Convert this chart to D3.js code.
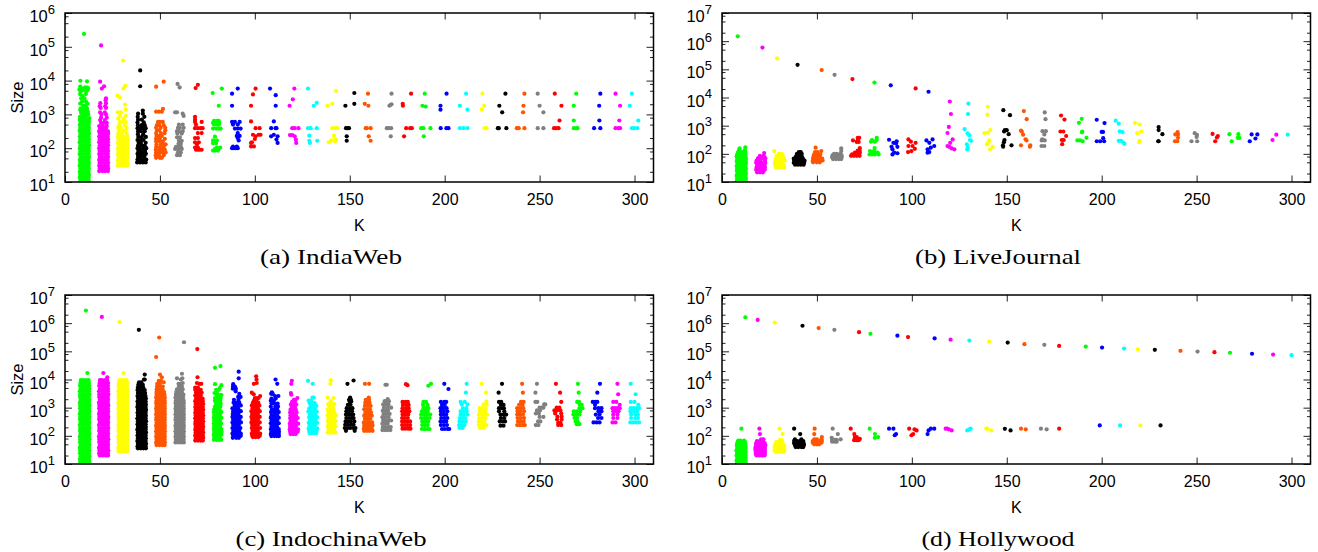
<!DOCTYPE html>
<html>
<head>
<meta charset="utf-8">
<script src="https://cdn.jsdelivr.net/npm/d3@7/dist/d3.min.js"></script>
<style>
  html, body { margin: 0; padding: 0; background: #fff; }
  svg { display: block; }
  text { font-family: "Liberation Sans", Arial, sans-serif; fill: #000; }
  .caption { font-family: "Liberation Serif", serif; }
</style>
</head>
<body>
<svg id="chart" width="1318" height="552"></svg>
<script>
// colour of each K cluster, K = 10, 20, ... 300
const kTicks = [0, 50, 100, 150, 200, 250, 300];
const clusterColors = [
  "#00ff00", "#ff00ff", "#ffff00", "#000000", "#ff5500", "#808080", "#ff0000", "#00ff00", "#0000ff", "#ff0000",
  "#0000ff", "#ff00ff", "#00ffff", "#ffff00", "#000000", "#ff5500", "#808080", "#ff0000", "#00ff00", "#0000ff",
  "#00ffff", "#ffff00", "#000000", "#ff5500", "#808080", "#ff0000", "#00ff00", "#0000ff", "#ff00ff", "#00ffff"
];
const minorMultiples = [2, 5, 8];

// Each cluster is a list of rows: [size, k, k, ...].
const indiaWeb = [
  [[240000,10],[9900,8.1],[9500,11.6],[6700,8],[6300,10.6],[6200,11.8],[5800,12.2,9],[5400,7.6,9.7,11.8],[4800,8.4,11.2],[4000,7.9,11],[3500,9.2],[3000,8.5,10.2],[2400,9,11],[2100,8,11.8],[1800,9.6,10.8],[1500,8.3,9.4,11.6],[1350,9.7,11,8],[1200,10.4,12],[1100,8.5],[1000,9.4,10.6,12.2],[850,7.9,9.7,11],[780,12.8,8.6],
   [700,7.8,9.2,10.8,12.4],[600,8.2,9.9,11.4,12.6],[490,7.8,9.4,11,12.5],[400,8,9.8,11.3,12.6],[330,7.7,9.2,10.8,12.4],[270,8.1,9.7,11.4,12.7],[222,7.8,9.3,11,12.4],[182,8,9.8,11.2,12.6],[150,7.7,9.4,10.9,12.5],[122,8.1,9.6,11.3,12.7],[100,7.8,9.3,11,12.4],[82,8,9.8,11.4,12.6],[67,7.7,9.2,10.8,12.5],[55,8.2,9.8,11.3,12.7],[45,7.8,9.4,11,12.4],[37,8,9.7,11.2,12.6],[30,7.7,9.3,10.9,12.5],[25,8.1,9.8,11.3,12.6],[20,7.8,9.4,11,12.4],[16.5,8,9.7,11.3,12.6],[13.5,7.8,9.3,10.9,12.5],[11,8.1,9.7,11.2,12.5]],
  [[110000,19],[9300,18.5],[6800,20.6],[5800,19.4],[3000,21.6],[2600,21.4],[2150,18.6,21.6],[1750,18.3,21.2],[1550,21.6,18.8],[1150,18.5,21],[1000,19.2,21.6],[800,19,22],[680,18.5,21],[560,19,20.5,22],[450,18,20,22],[380,18.5,20,21.5],
   [320,18,19.6,21.2,22.6],[270,18.3,19.9,21.4,22.7],[222,18,19.6,21.1,22.5],[182,18.2,19.8,21.4,22.7],[150,18,19.5,21.2,22.6],[122,18.3,19.9,21.5,22.7],[100,18,19.6,21.1,22.5],[82,18.2,19.8,21.4,22.7],[67,18,19.5,21.2,22.6],[55,18.3,19.9,21.5,22.7],[45,18,19.6,21.1,22.5],[37,18.2,19.8,21.4,22.7],[30,18,19.5,21.2,22.6],[25,18.3,19.9,21.5,22.7],[21,18,19.6,21.1,22.6]],
  [[39000,30.6],[7000,31.7],[5800,30.8],[3600,27.6],[3200,29],[1950,31.7],[1400,32],[1150,27.8,29.5],[900,29,32],[750,28,31],[600,29,30.5,32],[480,28.5,31.5],[400,28,29.5,32.5],[330,28.5,31,32],[270,28,30,32.5],[220,27.8,29,31,32.8],[180,28.2,29.8,31.4,32.9],
   [146,27.8,29.6,31.2,32.8],[120,28.2,29.9,31.5,32.9],[98,27.8,29.5,31.1,32.7],[80,28.1,29.8,31.4,32.9],[66,27.8,29.6,31.2,32.8],[54,28.2,29.9,31.5,32.9],[44,27.8,29.5,31.1,32.7],[36,28.1,29.8,31.4,32.9],[30,27.8,29.6,31.2,32.8]],
  [[20000,39.6],[6800,39.6],[1300,41],[1050,38.5,41],[850,38.3,41.8],[700,38.5,40.5],[580,38.2,41.5],[480,38.4,40.4,42],[390,38.2,39.6,41,42.5],[320,38.5,40,42],[260,38.4,41.2],[215,38.6,40.5,42.6],[175,38.2,39.8,41.4],[145,38.8,40,42.5],[120,38.5,40.4,42],[100,38.2,39.5,41.5,42.8],[82,38.6,40.5,42.2],[68,38.2,39.8,41,42.6],[56,38.5,40,41.8],[46,38.2,40,41.5,42.8],[38,38,39.5,41,42.5]],
  [[9300,52],[6600,48],[1450,51.6],[1200,48,49.5,51],[600,49,50,51.5],[480,48.4,49.6,52],[400,48,50.4,52.8],[340,48.5,49.5,52.8],[280,48,50.5,52.5],[230,48.2,49.6,51],[190,48,50,52.6],[160,48,49.8,51.5],[130,48.2,50.5,51.6,53],[108,48,50,52],[90,47.8,49.6,51,52.6],[75,48,50,51.5,53],[62,47.8,49.5,52],[52,48,50,51]],
  [[8000,59.3],[6300,60.4],[1150,58,59],[1050,62],[900,62.5],[500,60,62],[400,59.5,60.5,62.5],[320,59,60,62],[270,59.2,61.5],[210,59,60.5],[165,60,61.5],[135,59.8,61],[110,58.5,60,61],[95,58,59.5,60,61.5],[75,59.5,61],[62,59,60.5]],
  [[7500,70],[6000,68.8],[850,68.5],[700,68.5],[600,68.5,72],[500,69],[390,68.5,70,71.5,72.5],[280,70,72],[200,68.5,70],[150,68.5,70.5],[130,69.5],[105,68.5,70],[90,69,70,71,72]],
  [[5800,82.6],[4300,77.8],[1800,81],[640,78.5,80,81],[560,78,79.5,81.2],[500,78.5,80,81],[380,78,79.5,81,82],[220,79],[170,78,80],[140,78,79.5],[105,80,81.8],[95,79,81],[85,78,79,80.5]],
  [[5800,91],[4100,88],[1800,88],[600,88,89.5,92],[500,88.5,91],[380,89.5,91,92.5],[280,91],[230,90.5,92],[200,91],[170,91.5],[112,88.5,90.5],[100,88,89,90,91]],
  [[5800,100.4],[3900,99],[1800,98],[620,98],[390,100.4,102.5],[250,99,102,103],[225,100.4],[187,100],[150,98.5],[143,98],[113,98,99.5]],
  [[5800,108],[3700,111],[1800,111],[620,110],[390,108.6,110.9,111.4],[250,110],[225,108.6,112],[180,111.4],[143,112]],
  [[5800,120.8],[2800,120],[1800,118.3],[390,119.7,121,123],[245,118.5,119.7],[225,121],[180,121.6],[143,121.8]],
  [[5800,128],[2200,132.6],[1800,131],[390,128,129.4,132.6],[235,128.7],[166,128.7,132.9],[143,129]],
  [[5000,142.8],[2050,140.8],[1800,138.2],[390,140.8,142.4,143.5],[235,141.7],[180,142.6],[170,140.3],[160,142.3],[150,139]],
  [[4300,152.4],[2050,152.4],[1800,147.7],[390,148,149,149.6],[225,148.4],[166,148.4]],
  [[4100,159.6],[2050,157.9],[1800,159.8],[390,158.4,159,161],[225,160],[166,161]],
  [[4100,172],[2000,172],[1900,171.4],[1800,170.9],[390,169.5,170.4,171.8],[225,171.6]],
  [[4100,182.3],[2050,177.9],[1800,178],[390,179.7,181.8,182.7],[225,178.6]],
  [[4100,189.5],[1800,188.3],[1700,190],[390,187.6,188.8,192.5],[225,189]],
  [[4100,201],[1800,197.8],[1380,197.8],[390,197.9,200.9,202]],
  [[4100,211.3],[1800,208],[1380,212],[390,208,209.9,212]],
  [[4100,219.9],[1800,220.8],[1380,219.5],[390,221,222]],
  [[4100,232],[1800,228.8],[1150,230.3],[390,228,228.5,232.5]],
  [[4100,242],[1800,241.5],[1150,241.3],[390,238,239,242]],
  [[4100,249],[1800,250],[1150,252],[390,249,252]],
  [[4100,258],[1800,261.5],[660,260.5],[390,257.6,258.7,260]],
  [[4100,269.3],[1800,268],[660,268],[390,268,269.3,270]],
  [[4100,282],[1800,281.4],[660,281.5],[390,278.7,282]],
  [[4100,290],[1800,292.4],[660,292],[390,290,291.6,292.4]],
  [[4100,298.6],[1800,297.5],[660,302],[390,298.6,299.8,301.5]]
];

const liveJournal = [
  [[1480000,8.3],[170,12.3],[155,9.3],[135,9,12],[115,8.5,10,11.5,12.3],[95,8,9.5,11,12.4],[80,7.7,9.2,10.8,12.4],[67,8,9.8,11.3,12.6],[55,7.8,9.3,10.9,12.5],[45,8.1,9.7,11.2,12.6],[37,7.7,9.4,11,12.4],[30,8,9.8,11.3,12.6],[25,7.8,9.3,10.9,12.5],[20,8.1,9.7,11.2,12.6],[16.5,7.7,9.4,11,12.4],[13.5,8,9.8,11.3,12.6],[11,7.8,9.3,10.9,12.5]],
  [[590000,21.3],[107,22.2],[85,20,22],[70,19,21,22.8],[58,18.2,20.2,22.6],[48,18,19.5,21,22.8],[40,18.5,20.5,22.5],[33,18.2,20,21.5,22.6],[27,18,19.5,21,22.5],[22,18.5,20,21.5]],
  [[245000,29],[125,27.5],[100,30,31.5],[85,28.8,30.5,32],[70,28.5,30.5,32.5],[58,28.2,29.8,31.5,33],[48,28,30,31.8],[40,28,29.5,31,32.5],[33,28.5,30,31.5,32.8]],
  [[144000,39.8],[115,40.5,41.5],[100,39.5,40.8,42],[82,39,40.5,42],[68,37.8,39.4,41,42.6],[57,38,39.5,41,42.5,43.5],[48,37.8,39.5,41,42.8,43.3],[41,38.5,40,41.5,43]],
  [[94000,52.5],[165,49.3],[125,52.3],[115,49,50.4],[95,48.5,50,51.8],[80,48.2,50,51.5],[68,48,49.5,51,52.8],[58,47.8,49.5,51,53],[50,48,50,51.5]],
  [[64000,59.3],[155,62.8],[125,62.8],[100,59,60.5,62.5],[88,58.2,60,61.5,63],[75,58,59.5,61,62.5,63],[65,58.5,60,61.5,62.8]],
  [[45000,68.7],[370,71.5,72.3],[300,69,71.5],[265,71,72],[160,72.6],[130,71.5,72.5],[110,70,71.5,72.6],[95,68.5,70.5,72],[85,68,69.5,71,72.5]],
  [[34000,80.3],[370,81.5],[310,79,81.5],[270,78.5,80.5],[160,80.4],[125,78,80],[110,78.5,79.5,81,82],[95,77.7,79,80.5,82.5]],
  [[27000,88.9],[316,88],[280,92],[245,90.3],[235,91.7],[178,92.4,89.3],[145,89.8],[110,90.7],[105,92.4],[95,89.8]],
  [[21000,102],[325,98.2],[270,99.5],[245,102],[190,98.2,100.4],[150,101.6],[125,99.8],[115,98]],
  [[16000,108.8],[325,110.9],[300,107.7],[245,109.2],[190,111.8],[165,110],[145,108.3],[115,109.2],[110,108.3]],
  [[7200,120],[2600,120.6],[900,119.5],[550,118.8],[325,121.5],[245,120.2],[190,118.8],[178,119.7],[155,121],[145,122.4]],
  [[6100,129.8],[2600,129.6],[750,127.8],[530,129.4],[460,130.3],[310,130.6],[290,131.2],[215,129],[165,129.4],[145,129.2]],
  [[4700,140],[2450,139.8],[700,141.4],[560,140],[550,138.2],[300,140.8],[250,140.3],[215,139.6],[178,142.6],[145,141.2]],
  [[3550,148.2],[2350,151.7],[690,150,149],[620,148.6],[500,151],[310,148.8],[260,148.5],[200,148,152.5],[180,148.1]],
  [[3300,159],[1700,160.5],[670,157.5],[620,157.9],[480,158.6],[330,159.9],[300,160.4],[200,157.5,162.4],[180,162.2]],
  [[2950,170],[1700,170.4],[640,168.8,170.6],[490,169.8],[330,168.7],[300,168.4,170],[190,168.3,169.8]],
  [[2300,178.6],[1650,180.4],[620,178.3,179.8],[430,181.3],[310,179,180],[220,179.2]],
  [[1750,189.5],[1260,188],[620,189.8],[580,189.6],[370,192],[300,187.2,188.6],[280,190]],
  [[1620,197.4],[1240,201.5],[600,200,200.7],[360,200.8],[280,197.4,199.2,201.3]],
  [[1500,207.4],[1180,209],[630,209.5],[590,211],[290,209,210.2],[250,211.4],[230,212]],
  [[1260,217.6],[1100,220],[540,218.7],[620,220.8],[290,220],[260,219.7]],
  [[890,230],[700,230],[500,232],[280,229.8,230]],
  [[590,240],[490,238.8,240.2],[370,240.2],[280,238.6,239.8]],
  [[540,249],[470,250.2],[400,250],[280,247.3,250.3]],
  [[510,258.4],[430,261.2],[380,260.7],[280,259.8]],
  [[500,267.3,272],[370,271.7,272.5],[280,268.5]],
  [[490,279,282],[350,281],[280,278]],
  [[480,292],[310,290]],
  [[480,298]]
];

const indochinaWeb = [
  [[2800000,11],[17000,11.8],[9500,8.4,9.5,11,12.4],[7500,8.1,9.7,11.2,12.6],[6000,7.9,9.4,11,12.7],[4700,8.2,9.8,11.3,12.8],[3800,7.8,9.5,11,12.6],[3000,8,9.7,11.2,12.8],[2400,7.9,9.4,11,12.6],[1900,8.2,9.8,11.3,12.8],[1500,7.8,9.5,11,12.6],[1200,8,9.7,11.2,12.8],[950,7.9,9.4,11,12.6],[750,8.2,9.8,11.3,12.8],[600,7.8,9.5,11,12.6],[470,8,9.7,11.2,12.8],[380,7.9,9.4,11,12.6],[300,8.2,9.8,11.3,12.8],[240,7.8,9.5,11,12.6],[190,8,9.7,11.2,12.8],[150,7.9,9.4,11,12.6],[120,8.2,9.8,11.3,12.8],[95,7.8,9.5,11,12.6],[75,8,9.7,11.2,12.8],[60,7.9,9.4,11,12.6],[48,8.2,9.8,11.3,12.8],[38,7.8,9.5,11,12.6],[30,8,9.7,11.2,12.8],[24,7.9,9.4,11,12.6],[19,8.2,9.8,11.3,12.8],[15,7.8,9.5,11,12.6],[12,8,9.7,11.2,12.8]],
  [[1660000,19.4],[17000,20.2],[12000,22.3],[9500,18.4,19.6,21.2,22.2],[7500,18.2,19.8,21.3,22.7],[6000,18,19.5,21.1,22.6],[4700,18.3,19.9,21.4,22.7],[3800,17.9,19.6,21.1,22.6],[3000,18.1,19.8,21.3,22.8],[2400,18,19.5,21.1,22.6],[1900,18.3,19.9,21.4,22.7],[1500,17.9,19.6,21.1,22.6],[1200,18.1,19.8,21.3,22.8],[950,18,19.5,21.1,22.6],[750,18.3,19.9,21.4,22.7],[600,17.9,19.6,21.1,22.6],[470,18.1,19.8,21.3,22.8],[380,18,19.5,21.1,22.6],[300,18.3,19.9,21.4,22.7],[240,17.9,19.6,21.1,22.6],[190,18.1,19.8,21.3,22.8],[150,18,19.5,21.1,22.6],[120,18.3,19.9,21.4,22.7],[95,17.9,19.6,21.1,22.6],[75,18.1,19.8,21.3,22.8],[60,18,19.5,21.1,22.6],[48,18.3,19.9,21.4,22.7],[38,17.9,19.6,21.1,22.6],[30,18.1,19.8,21.3,22.8],[24,18,19.5,21.1,22.6],[20,18.3,19.9,21.4,22.7]],
  [[1100000,28.7],[17000,30.8],[9500,28.6,29.8,31.3,32.4],[7500,28.4,30,31.5,32.8],[6000,28.2,29.7,31.2,32.6],[4700,28.5,30.1,31.6,32.7],[3800,28.1,29.8,31.3,32.8],[3000,28.3,30,31.5,32.7],[2400,28.2,29.7,31.2,32.8],[1900,28.5,30.1,31.6,32.7],[1500,28.1,29.8,31.3,32.8],[1200,28.3,30,31.5,32.7],[950,28.2,29.7,31.2,32.8],[750,28.5,30.1,31.6,32.7],[600,28.1,29.8,31.3,32.8],[470,28.3,30,31.5,32.7],[380,28.2,29.7,31.2,32.8],[300,28.5,30.1,31.6,32.7],[240,28.1,29.8,31.3,32.8],[190,28.3,30,31.5,32.7],[150,28.2,29.7,31.2,32.8],[120,28.5,30.1,31.6,32.7],[95,28.1,29.8,31.3,32.8],[75,28.3,30,31.5,32.7],[60,28.2,29.7,31.2,32.8],[48,28.5,30.1,31.6,32.7],[38,28.1,29.8,31.3,32.8],[32,28.3,30,31.5,32.7],[28,28.2,29.7,31.2,32.8]],
  [[580000,38.9],[15000,42],[10000,42,41.6],[8000,39,40.2],[6500,38.6,40,41],[5200,38.4,39.8,41.2],[4200,38.2,39.6,41,42],[3300,38.4,39.8,41.2,42.2],[2600,38.2,39.6,41,42.4],[2100,38.5,39.8,41.2,42.6],[1650,38.2,39.7,41.1,42.5],[1300,38.4,39.9,41.3,42.6],[1050,38.1,39.6,41,42.5],[830,38.4,39.8,41.2,42.7],[660,38.2,39.7,41.1,42.5],[520,38.4,39.9,41.3,42.6],[410,38.1,39.6,41,42.5],[330,38.4,39.8,41.2,42.7],[260,38.2,39.7,41.1,42.5],[205,38.4,39.9,41.3,42.6],[165,38.1,39.6,41,42.5],[130,38.4,39.8,41.2,42.7],[103,38.2,39.7,41.1,42.5],[82,38.4,39.9,41.3,42.6],[65,38.1,39.6,41,42.5],[52,38.4,39.8,41.2,42.7],[42,38.2,39.7,41.1,42.5],[36,38.4,39.9,41.3,42.6]],
  [[310000,49.6],[63000,48],[15000,50],[12000,51],[9000,49.4,50.5],[8000,52],[7000,48.6,50],[5600,48.5,49.8,51.5],[4500,48.3,49.8,51.4],[3600,48.2,49.6,51,52.2],[2900,48.2,49.8,51.3,52.4],[2300,48,49.5,51,52.6],[1800,48.2,49.8,51.3,52.5],[1450,48,49.5,51,52.6],[1150,48.2,49.8,51.3,52.5],[920,48,49.5,51,52.6],[730,48.2,49.8,51.3,52.5],[580,48,49.5,51,52.6],[460,48.2,49.8,51.3,52.5],[370,48,49.5,51,52.6],[290,48.2,49.8,51.3,52.5],[230,48,49.5,51,52.6],[185,48.2,49.8,51.3,52.5],[145,48,49.5,51,52.6],[115,48.2,49.8,51.3,52.5],[92,48,49.5,51,52.6],[73,48.2,49.8,51.3,52.5],[58,48,49.5,51,52.6],[47,48.2,49.8,51.3,52.5]],
  [[210000,62.7],[16000,61.6],[11000,59,61.8],[10000,61],[7500,62],[7000,59.8,61],[5600,60,61.6],[4500,59,60.6,62],[3600,58.6,60.2,61.6],[2900,58.4,60,61.4,62.4],[2300,58.2,59.8,61.2,62.2],[1800,58.4,60,61.4,62.5],[1450,58.2,59.7,61.2,62.6],[1150,58.4,60,61.4,62.5],[920,58.2,59.7,61.2,62.6],[730,58.4,60,61.4,62.5],[580,58.2,59.7,61.2,62.6],[460,58.4,60,61.4,62.5],[370,58.2,59.7,61.2,62.6],[290,58.4,60,61.4,62.5],[230,58.2,59.7,61.2,62.6],[185,58.4,60,61.4,62.5],[145,58.2,59.7,61.2,62.6],[115,58.4,60,61.4,62.5],[92,58.2,59.7,61.2,62.6],[73,58.4,60,61.4,62.5],[58,58.2,59.7,61.2,62.6]],
  [[120000,69.7],[12000,69.8],[7500,69.5],[7000,71.8,70.8],[5200,68.6,70],[4300,68.6,70,71.5],[3400,69,70.4,72],[2700,68.6,70,71.5],[2100,69,70.4,71.8,72.5],[1700,68.6,70,71.4,72.6],[1350,68.8,70.2,71.6,72.8],[1050,68.6,70,71.4,72.6],[840,68.8,70.2,71.6,72.8],[660,68.6,70,71.4,72.6],[530,68.8,70.2,71.6,72.8],[420,68.6,70,71.4,72.6],[330,68.8,70.2,71.6,72.8],[265,68.6,70,71.4,72.6],[210,68.8,70.2,71.6,72.8],[165,68.6,70,71.4,72.6],[130,68.8,70.2,71.6,72.8],[105,68.6,70,71.4,72.6],[85,68.8,70.2,71.6,72.8],[68,68.6,70,71.4,72.6]],
  [[30000,81.9],[26000,79],[6800,79],[6300,82.4],[5000,81.5],[4300,79.6,81],[3300,78.8,80],[2800,80,81.5,82.4],[2200,79,80.5,82],[1750,79,80.4,81.8],[1400,79.5,81,82],[1100,79,80.4,81.8],[880,78.6,80,81.4],[700,78.4,80,81.2,82.4],[550,78.6,80.2,81.6],[440,78.4,79.8,81.2,82.4],[350,78.6,80.2,81.6],[275,78.4,79.8,81.2,82.2],[220,78.6,80.2,81.6],[175,78.4,79.8,81.2,82.4],[140,78.6,80.2,81.6,82.5],[110,78.4,79.8,81.2,82.4],[90,78.6,80.2,81.6],[72,78.4,79.8,81.2,82.3]],
  [[19000,91.5],[11000,91.5],[6800,88.6],[5600,88.5,89.5],[4700,88.4,90],[3800,89.9],[3100,91.8],[2400,91.2,92.5],[1900,89,91.4],[1500,88.8,90.4,91.8],[1200,89.4,91,92.6],[950,88.2,89.6,91.2],[750,88.6,90.2,91.8,92.6],[600,88.4,89.8,91.4],[470,88.2,89.6,91,92.6],[380,88.6,90.2,91.8],[300,88.2,89.8,91.2,92.7],[240,88.6,90.2,91.6],[190,88.2,89.6,91,92.4],[150,88.6,90.2,91.8],[120,88.2,89.6,91.2,92.6],[100,88.6,90,91.4,92.6],[85,88.4,90.2,91.6]],
  [[13000,100.7],[10000,100.9],[7500,101],[7000,99.5],[3400,98.4],[3000,99.4],[2600,102.8],[2200,100,101.2,102],[1800,99.6,100.8],[1500,99,100.4,101.8],[1200,98.4,100,101.2,102.4],[950,98.8,100.2,101.6],[750,98.2,99.6,101,102.6],[600,98.6,100.2,101.6],[470,98.2,99.6,101.2,102.6],[380,98.6,100,101.6],[300,98.2,99.8,101.2,102.6],[240,98.6,100,101.6],[190,98.4,99.8,101.2,102.8],[150,98.8,100.2,101.6],[120,98.4,99.8,101.2,102.8],[100,98.6,100,101.4,102.6],[90,99,100.4,101.8]],
  [[10000,110.9],[7000,111.8],[3500,109],[3100,108.6,109.4],[2600,110.6,112.4],[2100,108.8,111],[1750,108.4,110],[1400,108.8,110.4,112],[1100,108.4,110.8,112.2],[880,109,110.4,111.8],[700,108.5,110,111.4,112.6],[550,108.8,110.4,111.8],[440,108.4,110,111.4,112.6],[350,108.8,110.4,111.8],[280,108.4,110,111.4,112.6],[220,108.8,110.2,111.6],[175,108.4,110,111.4,112.6],[140,108.7,110.2,111.6,112.7],[115,108.4,110,111.4,112.6],[98,108.7,110.2,111.6,112.7]],
  [[9000,119.5],[7000,119.2],[3300,119],[2900,119.2],[2200,122.4],[1900,120.6,121.5],[1600,119.6,121],[1300,119,120.5,121.8],[1050,119.4,121.2],[850,118.8,120.2,121.6],[680,118.6,120,122],[540,118.8,120.2,121.6],[430,118.6,120,121.4,122.6],[340,118.8,120.2,121.6],[270,118.4,120,121.4,122.8],[215,118.6,120.2,121.6],[170,118.4,120,121.4,122.8],[140,118.6,120.2,121.6,122.6],[115,118.8,120.2,121.6]],
  [[9000,128],[7000,130.5],[2300,130.4,131],[1800,128.4,129.6],[1450,128.8,130.2,131.5],[1150,129.4,131,132.4],[920,128.6,130,131.6],[730,128.2,129.6,131.2,132.6],[580,129,130.4,131.8],[460,128.6,130,131.4,132.8],[365,129,130.6,132],[290,128.4,130,131.4,132.8],[230,128.8,130.2,131.6],[185,128.4,129.8,131.4,132.8],[150,128.6,130.2,131.6,132.6],[125,128.8,130,131.4,132.4]],
  [[9500,140],[7000,139.8],[2300,138.4],[2200,141.5],[1700,140],[1350,138.6,140.4,141.8],[1080,139.2,141],[860,138.4,139.8,141.4],[680,138.8,140.4,141.8],[540,138.4,140,141.6,142.5],[430,138.8,140.2,141.8],[340,138.4,140,141.4,142.6],[270,138.8,140.4,141.8],[215,138.4,140,141.6,142.5],[170,138.8,140.2,141.8],[130,138.4,140,141.4,142.5]],
  [[9200,152],[7000,148.8],[2300,150.2],[1900,149.6,150.6],[1660,150,150.8],[1270,149,150.4],[960,148.4,150,151.4],[740,148.2,149.6,151.2],[570,148,149.4,150.8,151.8],[430,148.2,149.6,151,152],[325,147.8,149.2,150.6,152.4],[247,147.6,149,150.6,152],[190,147.4,148.8,150.2,151.8,153],[150,148,152.6]],
  [[7000,158,160.2],[2300,160],[1900,158.4,160.2],[1500,158.2,159.4,160.4],[1150,158,159.6,161],[880,157.6,159.2,160.6],[680,158.2,159.8,161.2],[520,157.6,159,160.4,161.6],[400,158,159.4,160.8],[300,157.4,158.8,160.2,161.8],[235,157.6,159,160.4,162],[180,157.4,158.8,160.2,161.6],[150,157.6,159,160.4,162]],
  [[6500,169.5,168.8],[2000,170],[1700,168.4,169.4,170.6],[1300,167.6,169,170.4],[1000,168,170,171.8],[780,167.4,168.8,170.2],[600,167.8,169.4,171],[460,167.2,168.6,170.4],[350,167.6,169.2,170.6,171.8],[270,167.2,168.6,170],[205,167.4,168.8,170.4,171.6],[160,167.2,168.6,170,171.4]],
  [[6800,179.6],[6300,180.4],[1600,177.8,179.4,180.6],[1250,178,179.6,181],[960,177.8,179.6,181],[740,177.6,179,180.4,181.4],[570,177.8,179.4,180.8],[430,177.6,179,180.6],[325,177.6,179,180.4,181.8],[240,177.6,179,180.4,181.8],[180,177.8,179.2,180.8,182]],
  [[7000,192.8],[6000,191.4],[1600,188.8,190.2],[1250,188.6,191],[960,188.8,190,191.4],[740,188,189.6,191],[570,187.6,189.2,190.6,192.4],[430,187.6,189.2,190.6,192],[325,188.2,189.8,191.4],[240,188.2,189.6,191],[175,188,189.4,190.8,192]],
  [[7000,199.8],[4600,202],[1600,198,199.8,200.8],[1250,198.6,200],[960,197.8,199.2,201],[740,198,199.6,201.4],[570,198,199.4,200.8],[430,198.2,200,201.4],[325,197.8,199.4,200.8],[240,198,199.6,201.2],[175,198.6,200,201.6,202.4]],
  [[7000,211.6],[3400,211.2],[1600,208.4,210.6],[1300,209,212],[960,209.6,211.4],[740,208.4,210,211.6],[570,208.4,210,212],[430,208,209.4,210.8],[325,207.8,209.4,211],[240,207.6,209,210.4],[190,207.8,209.4]],
  [[7000,219.4],[3400,221.8],[1650,222],[1300,220.6,222],[960,218.4,220,221.6],[740,218.6,220,221.4],[570,218,219.6,221.2,222.4],[430,218.2,219.8,221.4],[325,218,219.6,221],[240,218,219.4,220.8,222],[190,218.6,220.4]],
  [[7000,230.2],[3400,228.4],[1600,228.6,229.8],[1270,229.6,231],[960,228.6,230,231.2],[740,228.6,231.4],[570,229.4,231,232.4],[430,229.6,231.4],[325,229,230.4,231.8],[230,229.4,231]],
  [[7000,240.8],[3400,241.2],[1600,240.2,241.6],[1270,239.2,241],[960,238.2,240,241.4],[740,238.4,239.8,241.8],[570,238.2,239.6,241.2],[430,238.4,240,241.8],[325,238.6,240,241.6],[240,238.2,239.6,241,242.2]],
  [[7000,248.6],[3400,247.8],[1600,247.8,248.8],[1300,252.4,253],[1000,250,251.2,252],[800,248.6,250.2],[620,248,249.6],[470,250,252],[325,249.2,250.4],[240,248,249.4]],
  [[7000,258.6],[3400,260.8],[1600,261.4],[1000,259,260.4],[800,257.8,259.2,261],[620,258.2,261.4],[480,259.4,261.6],[380,259.2,261.6],[290,259.8,261],[240,259.8,261.4]],
  [[7000,270.2],[3400,270.6],[1600,269.8,270.8],[1270,271.2,272.2],[960,271,272.6],[740,268,269.6,271.4],[570,267.8,269.4,271],[430,268.4,269.8],[325,269,270],[260,269.6,271]],
  [[7000,281.8],[3400,280.4],[1600,278,279.4,280.4],[1270,279.2],[960,279.2,281,282.6],[740,281,282.6],[570,279.6,281.6],[430,280.8,282.6],[300,278.4,280,281.6]],
  [[7000,291],[3000,291.4],[1600,288.8,290.4],[1270,292.2],[960,288.4,289.6,291,292.2],[740,288.8,290.4,291.6],[570,288.8,291],[430,288.8,291],[300,288.4,290]],
  [[7000,298],[3000,300.6],[1600,298,300],[1270,302],[960,298,299.4,301,302.4],[740,297.8,299.6,301.4],[570,298.2,300.4,301.8],[430,298.2,300.4,301.8],[300,297.8,299.4,300.8,302.4]]
];

const hollywood = [
  [[1620000,12.3],[180,10.2],[68,8.6,9.6,11.6],[62,8.4,9.4,10.6,12],[55,8,9.4,10.9,12.2],[45,7.8,9.3,10.8,12.4],[37,8,9.6,11,12.5],[30,7.6,9.2,10.7,12.4],[25,7.9,9.5,11,12.5],[20,7.7,9.3,10.8,12.4],[16.5,8,9.6,11,12.5],[13.5,7.7,9.2,10.8,12.4],[11,7.9,9.5,11,12.5]],
  [[1300000,18.8],[180,19.7],[115,20],[75,20.6,21.8],[65,18.4,20,21.5],[55,18,19.5,21,22.5],[46,18,19.6,21,22.8],[38,17.6,19.2,20.8,22.6],[32,17.6,19.2,20.8,22.6],[27,17.8,19.4,21,22.6],[23,17.8,19.4,21,22.6],[20,18.2,19.8,21.2,22.4]],
  [[1050000,27.8],[180,30.3],[115,31.9],[70,30.5,31.5],[60,28.6,30,31.4],[50,28.2,29.6,31,32.4],[42,27.8,29.4,31,32.8],[35,27.8,29.4,31,32.8],[30,27.8,29.4,31,32.8],[27,28.2,29.8,31.2,32.6]],
  [[810000,42.4],[180,38],[115,41.2],[75,38.4,41.8],[65,38,39.6,41.2,42.8],[55,38,39.6,41.2,43],[47,38.4,40,41.6,43.2],[40,38.8,40.2,41.8,42.8]],
  [[670000,50.9],[180,48.8],[115,48.6],[90,52.6],[75,48.6,50,52.4],[65,47.8,49.4,51,52.6],[57,47.8,49.4,51,52.4],[50,48.6,50,51.2]],
  [[580000,59.2],[180,58.3],[115,61],[75,62.5],[85,57.8],[72,58,59.4,60.4],[62,58,59.4,60.4]],
  [[480000,72.2],[180,67.8],[115,69.7],[90,70,71],[78,70,71.4,72.6],[70,69.6,71,72]],
  [[420000,78.2],[180,77.8],[115,80.6],[90,82.2],[85,80.5]],
  [[360000,92.4],[180,88,90.3],[115,91.7],[105,91]],
  [[320000,98],[180,98.6],[170,101.4],[155,102.5],[115,100.7],[105,99.8]],
  [[290000,112],[180,110,111.8],[155,108.8],[115,108.3]],
  [[260000,120.4],[180,117.8,118.6],[170,119.5],[155,121]],
  [[240000,130.3],[180,131],[170,130.3],[155,129.2]],
  [[220000,140.7],[180,139.2,139.8],[155,141.8]],
  [[205000,150.5],[178,149],[155,152]],
  [[180000,159.3],[180,157.5],[170,160]],
  [[170000,169.8],[180,168],[170,171]],
  [[156000,177.6],[180,177.6]],
  [[148000,191.6]],
  [[136000,200.2],[235,199]],
  [[125000,211.8],[235,209.7]],
  [[118000,219],[235,220.4]],
  [[113000,228],[235,231]],
  [[104000,241.5]],
  [[98000,250.5]],
  [[93000,259.4]],
  [[89000,267.6]],
  [[82000,279.2]],
  [[77000,290.3]],
  [[73000,300]]
];

const svg = d3.select("#chart");

// placement of the four plots
const panels = [
  { data: indiaWeb, x0: 65, y0: 13, topExp: 6, yLabel: "Size", caption: "(a) IndiaWeb", capX: 331, capW: 142 },
  { data: liveJournal, x0: 722, y0: 13, topExp: 7, yLabel: null, caption: "(b) LiveJournal", capX: 998, capW: 166 },
  { data: indochinaWeb, x0: 65, y0: 295, topExp: 7, yLabel: "Size", caption: "(c) IndochinaWeb", capX: 331, capW: 191 },
  { data: hollywood, x0: 722, y0: 295, topExp: 7, yLabel: null, caption: "(d) Hollywood", capX: 998, capW: 153 }
];

const plotW = 588.5;
const plotH = 169;

panels.forEach(p => {
  const g = svg.append("g").attr("transform", `translate(${p.x0},${p.y0})`);

  const x = d3.scaleLinear().domain([0, 310]).range([0, plotW]);
  const y = d3.scaleLog().domain([10, Math.pow(10, p.topExp)]).range([plotH, 0]);

  const majors = d3.range(1, p.topExp + 1).map(e => Math.pow(10, e));
  const minors = [];
  majors.slice(0, -1).forEach(m => minorMultiples.forEach(f => minors.push(m * f)));

  // points
  const points = [];
  p.data.forEach((cluster, i) => {
    cluster.forEach(row => {
      row.slice(1).forEach(k => points.push({ k: k, size: row[0], color: clusterColors[i] }));
    });
  });

  g.append("clipPath").attr("id", "clip" + p.x0 + p.y0)
    .append("rect").attr("width", plotW).attr("height", plotH);

  g.append("g")
    .attr("clip-path", `url(#clip${p.x0}${p.y0})`)
    .selectAll("circle")
    .data(points)
    .enter()
    .append("circle")
    .attr("cx", d => x(d.k))
    .attr("cy", d => y(d.size))
    .attr("r", 2.1)
    .attr("fill", d => d.color);

  // x axis, bottom with labels and a mirrored one on top
  const xBottom = g.append("g").attr("transform", `translate(0,${plotH})`)
    .call(d3.axisBottom(x).tickValues(kTicks).tickSizeInner(-6.5).tickSizeOuter(0).tickPadding(11.5));
  g.append("g")
    .call(d3.axisTop(x).tickValues(kTicks).tickSizeInner(-6.5).tickSizeOuter(0).tickFormat(""));

  // y axis, left with labels, then minors and the right side mirror
  const yLeft = g.append("g")
    .call(d3.axisLeft(y).tickValues(majors).tickSizeInner(-7).tickSizeOuter(0).tickPadding(10));
  g.append("g").call(d3.axisLeft(y).tickValues(minors).tickSizeInner(-3.5).tickSizeOuter(0).tickFormat(""));
  g.append("g").attr("transform", `translate(${plotW},0)`)
    .call(d3.axisRight(y).tickValues(majors).tickSizeInner(-7).tickSizeOuter(0).tickFormat(""));
  g.append("g").attr("transform", `translate(${plotW},0)`)
    .call(d3.axisRight(y).tickValues(minors).tickSizeInner(-3.5).tickSizeOuter(0).tickFormat(""));

  g.selectAll(".domain").remove();
  g.selectAll(".tick line").attr("stroke", "#222");

  xBottom.selectAll("text").style("font-size", "16px").style("font-family", '"Liberation Sans", sans-serif');

  yLeft.selectAll(".tick text")
    .attr("dy", 8.5)
    .style("font-size", "16.5px")
    .style("font-family", '"Liberation Sans", sans-serif')
    .text("10")
    .append("tspan")
    .attr("dy", -8.5)
    .style("font-size", "13px")
    .text(d => Math.round(Math.log10(d)));

  g.append("rect")
    .attr("width", plotW)
    .attr("height", plotH)
    .attr("fill", "none")
    .attr("stroke", "#000")
    .attr("stroke-width", 1.5);

  g.append("text")
    .attr("x", plotW / 2)
    .attr("y", 218)
    .attr("text-anchor", "middle")
    .style("font-size", "16px")
    .text("K");

  if (p.yLabel) {
    g.append("text")
      .attr("transform", `translate(${22.5 - p.x0},${plotH / 2}) rotate(-90)`)
      .attr("text-anchor", "middle")
      .style("font-size", "16.5px")
      .text(p.yLabel);
  }

  svg.append("text")
    .attr("class", "caption")
    .attr("x", p.capX)
    .attr("y", p.y0 + 251)
    .attr("text-anchor", "middle")
    .attr("textLength", p.capW)
    .attr("lengthAdjust", "spacingAndGlyphs")
    .style("font-size", "22px")
    .text(p.caption);
});
</script>
</body>
</html>
